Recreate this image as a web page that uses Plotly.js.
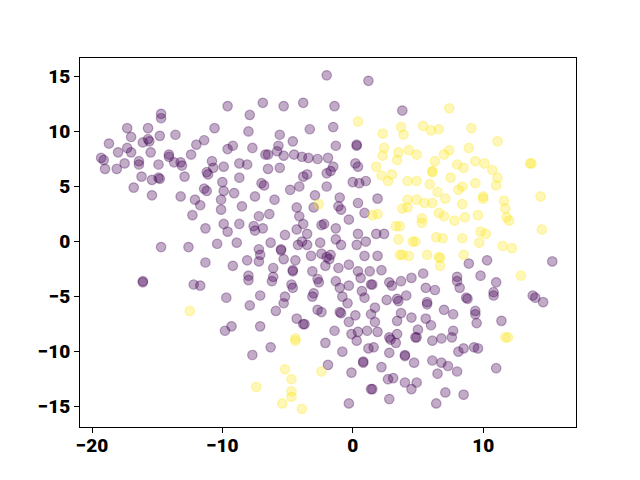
<!DOCTYPE html>
<html>
<head>
<meta charset="utf-8">
<script src="https://cdn.plot.ly/plotly-3.0.1.min.js"></script>
<style>html,body{margin:0;padding:0;background:#fff;}#chart{width:640px;height:480px;}</style>
</head>
<body>
<div id="chart"></div>
<script>
// Class 0 (purple) points [x, y]
const purplePoints = [
[-14.7,11.6],[-14.7,11.2],[-17.3,10.3],[-15.7,10.3],[-17.0,9.5],[-14.8,9.6],[-13.6,9.7],[-18.7,8.9],[-16.1,9.0],
[-15.7,9.3],[-15.6,9.1],[-17.3,8.5],[-18.0,8.1],[-17.0,8.1],[-15.5,8.1],[-12.0,8.8],[-11.4,9.2],[-19.3,7.6],[-19.1,7.4],
[-19.0,6.6],[-18.1,6.6],[-17.5,7.1],[-16.4,7.3],[-16.4,7.0],[-14.9,7.0],[-14.1,7.9],[-14.1,7.7],[-13.7,7.2],[-13.2,7.2],
[-13.1,6.9],[-12.4,7.9],[-12.9,5.9],[-16.2,5.9],[-14.9,5.8],[-14.8,5.7],[-15.4,5.6],
[-16.8,4.9],[-15.4,4.2],[-13.2,4.1],[-12.1,3.8],[-11.7,3.3],[-11.4,4.8],[-11.2,4.6],[-12.3,2.4],[-11.3,1.2],[-14.7,-0.5],
[-12.6,-0.5],[-11.3,-1.9],[-16.1,-3.7],[-16.1,-3.6],[-12.2,-3.9],[-11.7,-4.0],
[-2.0,15.1],[-9.6,12.3],[-6.9,12.6],[-5.3,12.3],[-3.8,12.6],[-7.9,11.5],[-10.6,10.3],[-8.0,10.0],[-5.6,9.7],[-3.3,10.2],
[-4.6,9.1],[-9.2,8.7],[-9.6,8.4],[-7.7,8.5],[-5.7,8.7],[-5.8,8.2],[-6.7,7.9],[-6.5,7.9],[-5.3,7.8],[-4.5,7.9],[-3.9,7.7],
[-3.4,7.6],[-2.7,7.5],[-1.9,7.6],[-10.8,7.3],[-10.7,6.7],[-11.2,6.3],[-11.1,6.1],[-9.9,6.8],[-8.7,7.1],[-8.1,7.0],[-6.5,6.6],
[-5.6,6.7],[-3.8,5.9],[-3.5,6.1],[-2.0,6.2],[-10.0,5.4],[-8.7,5.8],[-7.0,5.3],[-6.8,5.1],
[-4.8,4.7],[-4.1,5.0],[-2.0,5.0],[-9.9,4.6],[-9.1,4.4],[-10.1,3.8],[-7.5,4.1],[-6.0,3.8],[-2.9,4.2],[-10.1,2.9],[-8.5,3.2],
[-4.3,3.1],[-3.0,3.1],[-7.2,2.3],[-6.4,2.5],[-4.1,2.3],[-9.9,1.6],[-8.7,1.6],[-7.6,1.4],[-7.5,1.0],[-6.9,1.2],[-3.8,1.6],
[-2.4,1.5],[-2.2,1.6],[-9.6,0.9],[-5.2,0.6],[-4.3,1.1],[-3.5,0.7],[-10.4,-0.2],[-8.9,-0.1],[-6.3,-0.1],[-5.5,-0.7],[-5.5,-0.8],
[-4.2,-0.3],[-3.9,0.0],[-3.5,-0.3],[-2.5,-0.1],[-7.2,-0.7],[-7.1,-1.2],[-7.2,-1.8],[-8.1,-1.7],[-5.3,-1.6],[-4.4,-1.7],
[-3.2,-1.3],[-2.4,-1.1],[-2.0,-1.4],[-2.1,-2.2],[-9.2,-2.2],[-6.1,-2.4],[-4.6,-2.6],[-4.6,-2.7],[-3.1,-2.7],[-8.0,-3.1],
[-8.0,-3.5],[-6.1,-3.2],[-6.2,-3.6],[-2.7,-3.4],[-2.6,-3.7],[-4.7,-3.9],[-4.6,-4.2],[-3.0,-4.7],[-3.1,-5.0],[-9.7,-5.1],
[-7.1,-4.9],[-5.2,-5.0],[-5.3,-5.6],[-7.9,-5.8],
[-5.9,-6.3],[-2.7,-6.2],[-2.4,-6.4],[-9.3,-7.7],[-9.8,-8.1],[-7.1,-7.7],[-4.3,-7.0],[-3.8,-7.5],[-3.7,-7.5],[-2.1,-9.2],
[-6.3,-9.6],[-7.7,-10.3],[-1.9,-11.2],
[1.2,14.6],[-1.4,12.3],[3.8,11.9],[-1.5,10.4],[-1.3,8.7],[0.3,8.7],[0.3,8.8],[-1.5,6.8],[-1.7,6.4],[0.2,7.1],[0.4,6.8],
[0.0,5.4],[0.5,5.3],[1.0,5.5],
[-1.0,4.0],[1.9,3.9],[-1.1,3.2],[-0.9,2.9],[0.4,3.5],[0.9,2.6],[-0.3,2.0],[-1.3,1.2],[0.4,0.7],[1.8,0.7],[2.4,0.7],
[-1.3,0.2],[-0.9,-0.3],[1.0,0.0],[0.3,-0.3],[-1.7,-1.2],[-1.8,-1.6],[0.9,-1.3],[1.9,-1.3],[-0.3,-2.1],[-1.1,-2.4],
[0.4,-2.7],[1.3,-2.7],[2.2,-2.6],[5.4,-2.9],[4.5,-3.3],[0.6,-3.3],[1.5,-3.9],[1.4,-3.9],[-1.3,-3.6],[2.8,-3.7],[3.0,-4.0],
[3.7,-3.6],[-1.0,-4.2],[-0.3,-4.0],[5.6,-4.2],[6.3,-4.4],[0.7,-4.5],[0.9,-5.1],[-0.8,-5.0],[4.1,-4.9],[2.6,-5.3],
[3.4,-5.2],[3.5,-5.4],[5.7,-5.5],[5.7,-5.7],[-0.4,-5.6],
[-1.0,-6.4],[-0.9,-6.5],[-0.3,-7.3],[0.2,-6.7],[1.7,-6.0],[1.4,-6.6],[1.7,-7.3],[3.7,-6.5],[3.4,-7.2],[4.5,-6.9],
[5.6,-7.0],[6.0,-7.6],[7.0,-6.2],[-1.4,-8.1],[-0.1,-8.4],[0.4,-8.2],[0.3,-9.0],[1.1,-8.1],[1.9,-8.2],[2.8,-8.7],
[2.9,-8.9],[3.4,-8.4],[3.3,-9.2],[5.0,-8.0],[4.8,-8.7],[4.9,-8.7],[6.1,-9.0],[6.8,-8.8],[-0.8,-10.0],[1.2,-9.7],
[1.6,-9.6],[4.0,-10.3],[4.0,-10.4],[2.8,-10.1],[0.8,-10.9],[0.8,-11.0],[-0.1,-11.9],[2.2,-11.4],[4.7,-11.0],[6.1,-10.8],
[6.8,-11.0],[7.3,-11.3],[2.7,-12.5],[3.1,-12.4],[1.4,-13.4],[1.5,-13.4],[4.0,-12.8],[4.9,-12.8],[4.5,-13.4],[6.5,-12.0],
[7.1,-13.7],[2.8,-14.3],[-0.3,-14.7],[6.4,-14.7],
[8.9,-2.0],[10.3,-1.7],[15.3,-1.8],[8.0,-3.2],[8.0,-3.6],[9.8,-3.1],[11.0,-3.7],[8.2,-4.2],[10.8,-4.6],[10.8,-4.9],
[8.7,-5.1],[8.8,-5.2],[13.8,-4.9],[14.0,-5.1],[14.6,-5.5],
[9.4,-6.3],[9.4,-6.6],[9.5,-7.4],[7.7,-6.6],[11.4,-7.2],[7.7,-8.1],[7.6,-8.7],[8.1,-10.0],[8.5,-9.7],[9.3,-9.6],
[9.6,-9.7],[11.0,-11.5],[8.0,-11.8],[8.5,-13.9]
];

// Class 1 (yellow) points [x, y]
const yellowPoints = [
[-12.5,-6.3],[-2.6,3.4],[-4.4,-8.8],[-4.4,-9.0],[-5.2,-11.6],[-2.4,-11.8],[-4.7,-12.5],[-7.4,-13.2],[-4.7,-13.6],
[-4.7,-14.1],[-5.4,-14.7],[-3.9,-15.2],
[7.4,12.1],[0.4,10.9],[2.3,9.8],[3.7,10.4],[3.9,9.7],[5.4,10.5],[6.0,10.1],[6.6,10.2],[2.4,8.5],[2.3,7.8],[3.5,8.1],
[3.4,7.4],[4.3,8.3],[4.9,7.9],[7.0,7.9],[7.4,8.3],[6.3,7.3],[6.1,6.3],[6.1,6.4],[1.8,6.8],[2.2,6.0],[3.0,6.1],[4.2,5.5],
[4.9,5.5],[7.5,5.8],
[9.1,10.3],[11.1,9.1],[8.9,8.5],[8.0,7.0],[8.5,6.7],[9.4,7.3],[10.1,7.1],[10.7,6.5],[11.1,5.8],[13.6,7.1],[13.7,7.1],
[8.1,4.7],[8.4,5.0],[9.4,5.3],[11.0,5.1],[10.0,4.1],[10.0,3.9],[14.4,4.1],[11.6,3.7],[11.7,3.0],[8.4,3.4],[7.8,1.9],
[8.6,2.2],[9.6,2.4],[11.8,2.2],[12.0,1.9],[14.5,1.1],[9.8,0.9],[10.2,0.7],[8.4,0.3],[9.7,-0.1],[11.5,-0.4],[12.2,-0.6],
[8.5,-1.2],[12.9,-3.1],
[2.7,5.5],[5.9,5.2],[6.5,4.5],[7.1,3.9],[1.5,2.4],[1.9,2.5],[3.8,3.0],[4.2,3.1],[4.9,3.8],[5.5,3.5],[6.1,3.5],[4.2,3.8],
[6.6,2.6],[7.0,2.3],[5.3,2.1],[5.3,1.7],[3.3,1.4],[3.6,1.4],[3.5,0.2],[4.6,0.0],[4.8,0.0],[6.4,0.4],[6.9,0.3],[3.6,-1.2],
[3.8,-1.2],[4.3,-1.3],[5.7,-1.2],[6.6,-1.4],[6.7,-1.5],[6.7,-2.2],
[11.7,-8.7],[11.9,-8.7]
];

const xTicks = [-20, -10, 0, 10];
const yTicks = [-15, -10, -5, 0, 5, 10, 15];

const purpleColor = 'rgba(68,1,84,0.33)';
const yellowColor = 'rgba(253,231,37,0.33)';

function mk(points, color) {
  return {
    type: 'scatter', mode: 'markers',
    x: points.map(p => p[0]), y: points.map(p => p[1]),
    marker: {size: 9.5, color: color, line: {color: color, width: 1.2}},
    hoverinfo: 'skip', showlegend: false
  };
}

const tickFont = {family: 'Roboto, "DejaVu Sans", sans-serif', size: 19, color: '#000', weight: 900};
const axisCommon = {
  showgrid: false, zeroline: false, showline: true, mirror: true,
  linecolor: '#000', linewidth: 1, ticks: 'outside', ticklen: 5, tickwidth: 1,
  tickcolor: '#000', tickfont: tickFont, tickmode: 'array'
};

const layout = {
  width: 640, height: 480,
  margin: {l: 80, r: 64, t: 58, b: 53, pad: 0},
  paper_bgcolor: '#fff', plot_bgcolor: '#fff',
  xaxis: Object.assign({}, axisCommon, {range: [-20.92, 17.12], ticklabelstandoff: -4, tickvals: xTicks, ticktext: xTicks.map(v => v < 0 ? '\u2212' + Math.abs(v) : String(v))}),
  yaxis: Object.assign({}, axisCommon, {range: [-16.84, 16.67], tickvals: yTicks, ticktext: yTicks.map(v => v < 0 ? '\u2212' + Math.abs(v) : String(v))}),
  showlegend: false
};

Plotly.newPlot('chart', [mk(purplePoints, purpleColor), mk(yellowPoints, yellowColor)], layout, {displayModeBar: false, staticPlot: true});
</script>
</body>
</html>
